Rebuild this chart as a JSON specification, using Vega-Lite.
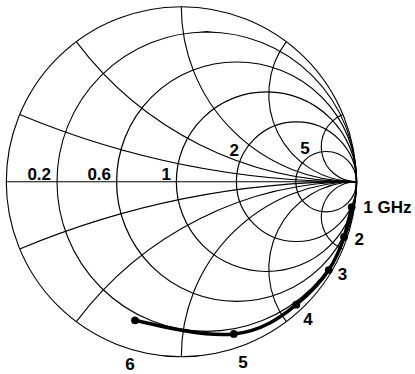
{
  "$schema": "https://vega.github.io/schema/vega-lite/v6.json",
  "width": 415,
  "height": 374,
  "padding": 0,
  "autosize": {"type": "none"},
  "background": "white",
  "config": {"view": {"stroke": null}},
  "datasets": {
    "grid": [
      {"kind": "outer", "label": "0", "cx": 0, "cy": 0, "rad": 1, "t0": 0, "t1": 6.2832},
      {"kind": "r", "label": "0.2", "cx": 0.1449, "cy": 0, "rad": 0.8551, "t0": 0, "t1": 6.2832},
      {"kind": "r", "label": "0.6", "cx": 0.3163, "cy": 0, "rad": 0.6837, "t0": 0, "t1": 6.2832},
      {"kind": "r", "label": "1", "cx": 0.4869, "cy": 0, "rad": 0.5131, "t0": 0, "t1": 6.2832},
      {"kind": "r", "label": "2", "cx": 0.6583, "cy": 0, "rad": 0.3417, "t0": 0, "t1": 6.2832},
      {"kind": "r", "label": "5", "cx": 0.8277, "cy": 0, "rad": 0.1723, "t0": 0, "t1": 6.2832},
      {"kind": "x", "label": "0.2", "cx": 1, "cy": 5, "rad": 5, "t0": 3.1416, "t1": 3.5364},
      {"kind": "x", "label": "0.5", "cx": 1, "cy": 2, "rad": 2, "t0": 3.1416, "t1": 4.0689},
      {"kind": "x", "label": "1", "cx": 1, "cy": 1, "rad": 1, "t0": 3.1416, "t1": 4.7124},
      {"kind": "x", "label": "2", "cx": 1, "cy": 0.5, "rad": 0.5, "t0": 3.1416, "t1": 5.3559},
      {"kind": "x", "label": "5", "cx": 1, "cy": 0.2, "rad": 0.2, "t0": 3.1416, "t1": 5.8884},
      {"kind": "x", "label": "-0.2", "cx": 1, "cy": -5, "rad": 5, "t0": -0.3948, "t1": 0},
      {"kind": "x", "label": "-0.5", "cx": 1, "cy": -2, "rad": 2, "t0": -0.9273, "t1": 0},
      {"kind": "x", "label": "-1", "cx": 1, "cy": -1, "rad": 1, "t0": -1.5708, "t1": 0},
      {"kind": "x", "label": "-2", "cx": 1, "cy": -0.5, "rad": 0.5, "t0": -2.2143, "t1": 0},
      {"kind": "x", "label": "-5", "cx": 1, "cy": -0.2, "rad": 0.2, "t0": -2.7468, "t1": 0}
    ],
    "realaxis": [
      {"u0": -1, "u1": 1, "v": 0}
    ],
    "trace": [
      {"f": 1, "u": 0.9737, "v": -0.1446},
      {"f": 2, "u": 0.9297, "v": -0.316},
      {"f": 3, "u": 0.8423, "v": -0.5046},
      {"f": 4, "u": 0.6571, "v": -0.7029},
      {"f": 5, "u": 0.3, "v": -0.8703},
      {"f": 6, "u": -0.2646, "v": -0.792}
    ],
    "labels": [
      {"text": "0.2", "u": -0.812, "v": 0.0097},
      {"text": "0.6", "u": -0.469, "v": 0.0097},
      {"text": "1", "u": -0.086, "v": 0.0097},
      {"text": "2", "u": 0.303, "v": 0.147},
      {"text": "5", "u": 0.707, "v": 0.16},
      {"text": "1 GHz", "u": 1.178, "v": -0.1806},
      {"text": "2", "u": 1.0166, "v": -0.3617},
      {"text": "3", "u": 0.921, "v": -0.5617},
      {"text": "4", "u": 0.724, "v": -0.819},
      {"text": "5", "u": 0.3526, "v": -1.066},
      {"text": "6", "u": -0.293, "v": -1.074}
    ]
  },
  "layer": [
    {
      "data": {"name": "grid"},
      "mark": {"type": "arc", "filled": false, "fill": null, "stroke": "black", "strokeWidth": 1.1},
      "encoding": {
        "x": {"field": "cx", "type": "quantitative", "scale": {"domain": [-1.036, 1.3354], "nice": false, "zero": false}, "axis": null},
        "y": {"field": "cy", "type": "quantitative", "scale": {"domain": [-1.0989, 1.0383], "nice": false, "zero": false}, "axis": null},
        "theta": {"field": "t0", "type": "quantitative", "scale": null, "stack": null},
        "theta2": {"field": "t1"},
        "radius": {"field": "rad", "type": "quantitative", "scale": {"type": "linear", "domain": [0, 1], "range": [0, 175], "zero": true}},
        "radius2": {"field": "rad"}
      }
    },
    {
      "data": {"name": "realaxis"},
      "mark": {"type": "rule", "stroke": "black", "strokeWidth": 1.1},
      "encoding": {
        "x": {"field": "u0", "type": "quantitative", "scale": {"domain": [-1.036, 1.3354], "nice": false, "zero": false}, "axis": null},
        "x2": {"field": "u1"},
        "y": {"field": "v", "type": "quantitative", "scale": {"domain": [-1.0989, 1.0383], "nice": false, "zero": false}, "axis": null}
      }
    },
    {
      "data": {"name": "trace"},
      "mark": {"type": "line", "stroke": "black", "strokeWidth": 3.5, "interpolate": "natural"},
      "encoding": {
        "x": {"field": "u", "type": "quantitative", "scale": {"domain": [-1.036, 1.3354], "nice": false, "zero": false}, "axis": null},
        "y": {"field": "v", "type": "quantitative", "scale": {"domain": [-1.0989, 1.0383], "nice": false, "zero": false}, "axis": null},
        "order": {"field": "f", "type": "quantitative"}
      }
    },
    {
      "data": {"name": "trace"},
      "mark": {"type": "point", "filled": true, "color": "black", "size": 60, "opacity": 1},
      "encoding": {
        "x": {"field": "u", "type": "quantitative", "scale": {"domain": [-1.036, 1.3354], "nice": false, "zero": false}, "axis": null},
        "y": {"field": "v", "type": "quantitative", "scale": {"domain": [-1.0989, 1.0383], "nice": false, "zero": false}, "axis": null}
      }
    },
    {
      "data": {"name": "labels"},
      "mark": {"type": "text", "font": "Liberation Sans, Arial, sans-serif", "fontWeight": 700, "fontSize": 17, "align": "center", "baseline": "alphabetic", "color": "black"},
      "encoding": {
        "x": {"field": "u", "type": "quantitative", "scale": {"domain": [-1.036, 1.3354], "nice": false, "zero": false}, "axis": null},
        "y": {"field": "v", "type": "quantitative", "scale": {"domain": [-1.0989, 1.0383], "nice": false, "zero": false}, "axis": null},
        "text": {"field": "text", "type": "nominal"}
      }
    }
  ]
}
